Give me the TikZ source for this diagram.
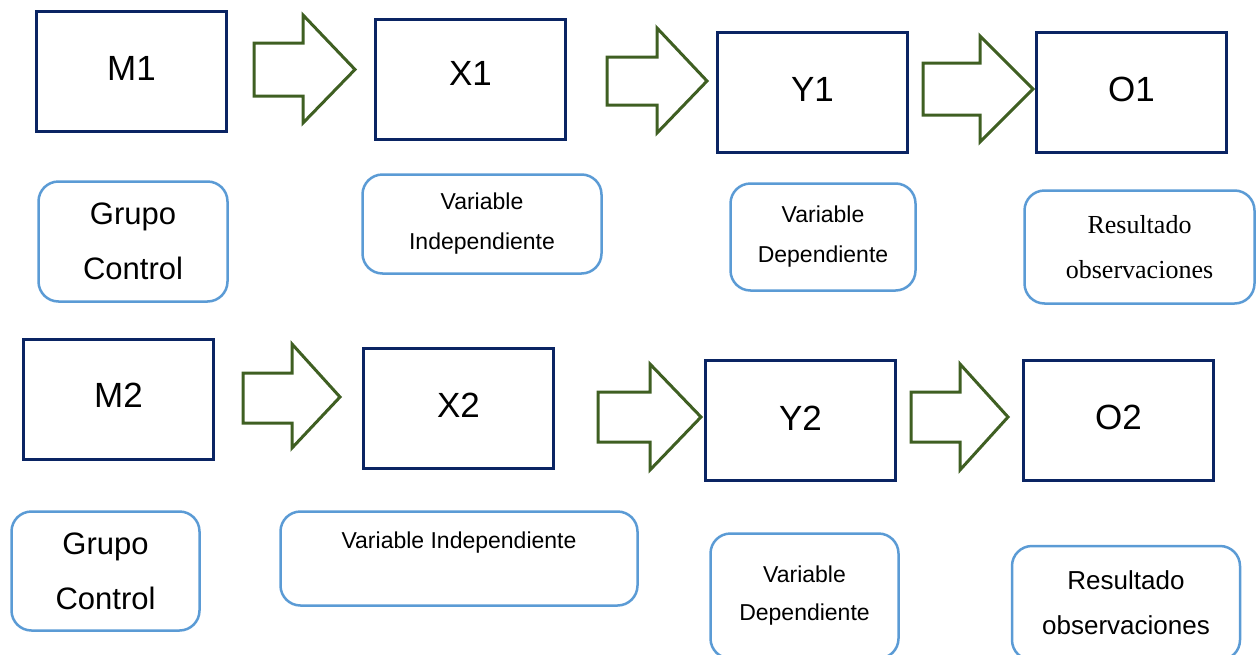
\documentclass[tikz,border=0pt]{standalone}
\usepackage{fontspec}
\setmainfont{Liberation Sans}
\newfontfamily\timesfont{Liberation Serif}
\definecolor{navy}{HTML}{0A2463}
\definecolor{agreen}{HTML}{3F5F22}
\definecolor{lblue}{HTML}{5B9BD5}
\begin{document}
\begin{tikzpicture}[x=1pt,y=-1pt,
  hard/.style={draw=navy, line width=3pt, inner sep=0pt, minimum width=190pt, minimum height=120pt, text depth=5pt, font=\fontsize{35}{40}\selectfont},
  soft/.style={draw=lblue, line width=2.5pt, rounded corners=20pt, inner sep=0pt, align=center},
  barrow/.style={draw=agreen, line width=3pt, line join=miter},
  big/.style={font=\fontsize{31}{55}\selectfont},
  mid/.style={font=\fontsize{23}{40}\selectfont},
  res/.style={font=\fontsize{26}{45}\selectfont}]
\useasboundingbox (0,0) rectangle (1259,654);

% top row hard boxes
\node[hard, text depth=7pt] (M1) at (131.5,71.5) {M1};
\node[hard, text depth=12pt] (X1) at (470.5,79) {X1};
\node[hard] (Y1) at (812.5,92) {Y1};
\node[hard, text depth=6pt] (O1) at (1131.5,92) {O1};
% bottom row hard boxes
\node[hard, text depth=8pt] (M2) at (118.5,399.5) {M2};
\node[hard] (X2) at (458.5,408) {X2};
\node[hard] (Y2) at (800.5,420.5) {Y2};
\node[hard, text depth=6pt] (O2) at (1118.5,420.5) {O2};

% block arrows top
\draw[barrow] (254,43) -- (303,43) -- (303,15) -- (355,69.5) -- (303,123) -- (303,96) -- (254,96) -- cycle;
\draw[barrow] (607,57) -- (657,57) -- (657,28) -- (707,81) -- (657,133) -- (657,105) -- (607,105) -- cycle;
\draw[barrow] (923,63) -- (980,63) -- (980,36) -- (1033,89) -- (980,142) -- (980,115) -- (923,115) -- cycle;
% block arrows bottom
\draw[barrow] (243,373) -- (292,373) -- (292,344) -- (340,397) -- (292,448) -- (292,423) -- (243,423) -- cycle;
\draw[barrow] (598,392) -- (650,392) -- (650,364) -- (701,417) -- (650,470) -- (650,442) -- (598,442) -- cycle;
\draw[barrow] (911,392) -- (960,392) -- (960,364) -- (1008,417) -- (960,470) -- (960,442) -- (911,442) -- cycle;

% top row soft boxes
\node[soft, big, minimum width=189pt, minimum height=120pt] (GC1) at (133,241.5) {Grupo\\Control};
\node[soft, mid, minimum width=239pt, minimum height=99pt] (VI1) at (482,224) {Variable\\Independiente};
\node[soft, mid, minimum width=185pt, minimum height=107pt] (VD1) at (823,237) {Variable\\Dependiente};
\node[soft, minimum width=230pt, minimum height=113pt, font=\timesfont\fontsize{26}{45}\selectfont] (RO1) at (1139.5,247) {Resultado\\observaciones};

% bottom row soft boxes
\node[soft, big, minimum width=188pt, minimum height=119pt] (GC2) at (105.5,571) {Grupo\\Control};
\node[soft, minimum width=357pt, minimum height=94pt] (VI2) at (459,558.5) {};
\node[mid, inner sep=0pt] (VI2t) at (459,543) {Variable Independiente};
\node[soft, mid, minimum width=188pt, minimum height=125pt] (VD2) at (804.5,596) {Variable\\[-2pt]Dependiente};
\node[soft, res, minimum width=228pt, minimum height=114pt] (RO2) at (1126,603) {Resultado\\observaciones};
\end{tikzpicture}
\end{document}
